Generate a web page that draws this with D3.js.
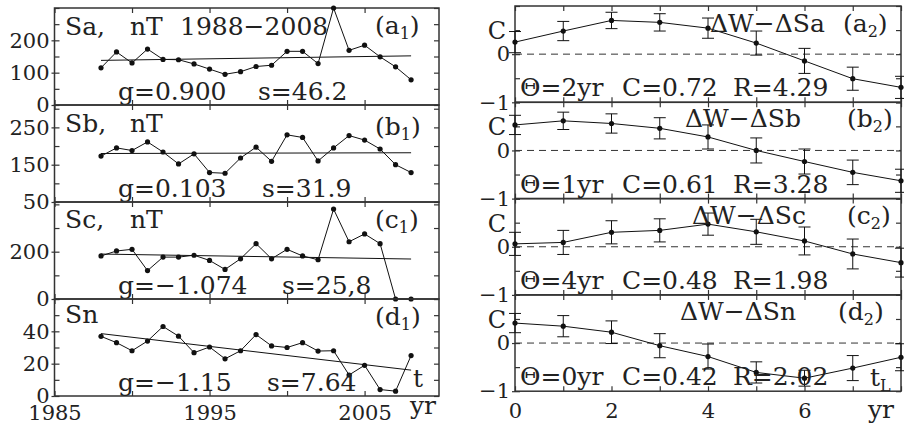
<!DOCTYPE html>
<html>
<head>
<meta charset="utf-8">
<script src="https://cdn.jsdelivr.net/npm/d3@7"></script>
<style>
  body { margin: 0; background: #fff; }
  svg text { font-family: "DejaVu Serif", serif; fill: #222; }
</style>
</head>
<body>
<svg id="chart" width="904" height="424"></svg>
<script>
// ---- left column: yearly series 1988-2008
var years = [1988, 1989, 1990, 1991, 1992, 1993, 1994, 1995, 1996, 1997, 1998,
             1999, 2000, 2001, 2002, 2003, 2004, 2005, 2006, 2007, 2008];
var saValues = [115, 164, 130, 173, 141, 140, 127, 111, 95, 103, 119, 123, 166, 166, 128, 300, 169, 185, 149, 118, 78];
var sbValues = [173, 195, 188, 211, 184, 152, 179, 129, 127, 168, 197, 159, 230, 223, 160, 195, 228, 216, 192, 150, 129];
var scValues = [182, 203, 210, 120, 177, 177, 185, 163, 125, 170, 234, 170, 210, 182, 166, 380, 242, 275, 234, 0, 0];
var snValues = [36.9, 33, 28, 34, 43, 37, 26.8, 30.3, 23, 28, 38, 31, 30, 33, 27.8, 28, 13, 19, 4, 3, 25];
// trend line values at 1988 and 2008
var trendA = [138, 152];
var trendB = [180, 182];
var trendC = [190, 169];
var trendN = [38.6, 16];
var saTicks = [0, 100, 200];
var sbTicks = [50, 150, 250];
var scTicks = [0, 200];
var snTicks = [0, 20, 40];
var yearTicks = [1985, 1990, 1995, 2000, 2005];
var yearLabels = [1985, 1995, 2005];
var leftTitles = [["Sa,", "nT", "1988\u22122008"], ["Sb,", "nT"], ["Sc,", "nT"], ["Sn"]];
var leftTags = ["a", "b", "c", "d"];
var gTexts = ["g=0.900", "g=0.103", "g=\u22121.074", "g=\u22121.15"];
var sTexts = ["s=46.2", "s=31.9", "s=25,8", "s=7.64"];

// ---- right column: correlation vs lag
var lags = [0, 1, 2, 3, 4, 5, 6, 7, 8];
var corrA = [0.25, 0.48, 0.70, 0.66, 0.54, 0.23, -0.14, -0.51, -0.69];
var errA  = [0.22, 0.20, 0.17, 0.18, 0.21, 0.25, 0.26, 0.24, 0.23];
var corrB = [0.53, 0.615, 0.56, 0.46, 0.28, 0.0, -0.23, -0.455, -0.63];
var errB  = [0.20, 0.18, 0.20, 0.22, 0.25, 0.26, 0.26, 0.255, 0.24];
var corrC = [0.06, 0.09, 0.30, 0.34, 0.47, 0.31, 0.12, -0.15, -0.33];
var errC  = [0.24, 0.25, 0.24, 0.24, 0.23, 0.26, 0.29, 0.31, 0.30];
var corrN = [0.415, 0.35, 0.225, -0.055, -0.28, -0.61, -0.73, -0.52, -0.295];
var errN  = [0.20, 0.22, 0.235, 0.25, 0.26, 0.22, 0.165, 0.26, 0.28];
var lagLabels = [0, 2, 4, 6];
var corrLabels = [0, -1];
var rightTitles = ["\u0394W\u2212\u0394Sa", "\u0394W\u2212\u0394Sb", "\u0394W\u2212\u0394Sc", "\u0394W\u2212\u0394Sn"];
var thetaTexts = ["\u0398=2yr", "\u0398=1yr", "\u0398=4yr", "\u0398=0yr"];
var cTexts = ["C=0.72", "C=0.61", "C=0.48", "C=0.42"];
var rTexts = ["R=4.29", "R=3.28", "R=1.98", "R=2.02"];

var svg = d3.select("#chart");
var ink = "#222";
var frame = "#333";

function styleAxis(g, size) {
    g.attr("font-family", null).attr("font-size", null);
    g.select(".domain").remove();
    g.selectAll("line").attr("stroke", frame).attr("stroke-width", 1.2);
    g.selectAll("text")
        .style("font-family", "DejaVu Serif, serif")
        .style("font-size", size + "px")
        .attr("fill", ink);
}

function tagText(sel, x, y, letter, sub) {
    var t = sel.append("text").attr("x", x).attr("y", y).style("font-size", "25px");
    t.append("tspan").text("(" + letter);
    t.append("tspan").attr("dy", 5).style("font-size", "16px").text(sub);
    t.append("tspan").attr("dy", -5).text(")");
}

// ================= left column
var leftX = d3.scaleLinear().domain([1985, 2009.8]).range([54.5, 439]);
var leftTops = [8, 105, 202, 299];
var leftH = 97;
var leftSeries = [saValues, sbValues, scValues, snValues];
var leftTrends = [trendA, trendB, trendC, trendN];
var leftDomains = [[0, 300], [50, 310], [0, 410], [0, 60]];
var leftSteps = [50, 50, 100, 10];
var leftLabelTicks = [saTicks, sbTicks, scTicks, snTicks];
var leftTitleY = [35, 131.5, 227.5, 323];
var leftTagY = [34, 135, 228, 325];
var sX = [258, 262, 282, 267];

leftSeries.forEach(function (vals, i) {
    var top = leftTops[i], bot = top + leftH;
    var x0 = leftX.range()[0], x1 = leftX.range()[1];
    var y = d3.scaleLinear().domain(leftDomains[i]).range([bot, top]);
    var minor = d3.range(leftDomains[i][0], leftDomains[i][1] + 0.01, leftSteps[i]);
    var g = svg.append("g");

    g.append("g").attr("transform", "translate(" + x0 + ",0)")
        .call(d3.axisLeft(y).tickValues(minor).tickSize(-5).tickFormat(""))
        .call(styleAxis, 21);
    g.append("g").attr("transform", "translate(" + x0 + ",0)")
        .call(d3.axisLeft(y).tickValues(leftLabelTicks[i]).tickSize(3).tickPadding(2))
        .call(styleAxis, 21);
    g.append("g").attr("transform", "translate(" + x1 + ",0)")
        .call(d3.axisRight(y).tickValues(minor).tickSize(-5).tickFormat(""))
        .call(styleAxis, 21);
    g.append("g").attr("transform", "translate(0," + bot + ")")
        .call(d3.axisBottom(leftX).tickValues(yearTicks).tickSize(-5).tickFormat(""))
        .call(styleAxis, 21);
    g.append("g").attr("transform", "translate(0," + top + ")")
        .call(d3.axisTop(leftX).tickValues(yearTicks).tickSize(-5).tickFormat(""))
        .call(styleAxis, 21);

    g.append("rect")
        .attr("x", x0).attr("y", top)
        .attr("width", x1 - x0).attr("height", leftH)
        .attr("fill", "none").attr("stroke", frame).attr("stroke-width", 1.5);

    // trend
    g.append("line")
        .attr("x1", leftX(years[0])).attr("y1", y(leftTrends[i][0]))
        .attr("x2", leftX(years[years.length - 1])).attr("y2", y(leftTrends[i][1]))
        .attr("stroke", "#111").attr("stroke-width", 1);

    var pts = d3.zip(years, vals);
    g.append("path")
        .datum(pts)
        .attr("fill", "none").attr("stroke", "#111").attr("stroke-width", 1)
        .attr("d", d3.line().x(function (d) { return leftX(d[0]); }).y(function (d) { return y(d[1]); }));
    g.selectAll(".dot").data(pts).enter().append("circle")
        .attr("cx", function (d) { return leftX(d[0]); })
        .attr("cy", function (d) { return y(d[1]); })
        .attr("r", 2.6).attr("fill", "#111");

    // texts
    var tx = [65, 130, 180];
    leftTitles[i].forEach(function (s, k) {
        g.append("text").attr("x", tx[k]).attr("y", leftTitleY[i]).style("font-size", "25px").text(s);
    });
    tagText(g, 375, leftTagY[i], leftTags[i], "1");
    g.append("text").attr("x", 118).attr("y", bot - 5).style("font-size", "25px").text(gTexts[i]);
    g.append("text").attr("x", sX[i]).attr("y", bot - 5).style("font-size", "25px").text(sTexts[i]);
});

svg.append("g").attr("transform", "translate(0,402)")
    .call(d3.axisBottom(leftX).tickValues(yearLabels).tickSize(0).tickPadding(3).tickFormat(d3.format("d")))
    .call(styleAxis, 21);
svg.append("text").attr("x", 413).attr("y", 387).style("font-size", "25px").text("t");
svg.append("text").attr("x", 410).attr("y", 414).style("font-size", "25px").text("yr");

// ================= right column
var rightX = d3.scaleLinear().domain([0, 8]).range([515, 901]);
var rightTops = [6, 102.3, 198.6, 294.9];
var rightH = 96.3;
var corrSeries = [corrA, corrB, corrC, corrN];
var errSeries = [errA, errB, errC, errN];
var rightTitleX = [710, 685, 692, 680];
var rightTitleY = [31.5, 126.5, 223.5, 320];
var rightTagX = [843, 847, 847, 838];

corrSeries.forEach(function (vals, i) {
    var top = rightTops[i], bot = top + rightH;
    var x0 = rightX.range()[0], x1 = rightX.range()[1];
    var y = d3.scaleLinear().domain([-1, 1]).range([bot, top]);
    var g = svg.append("g");
    var yMinor = [-1, -0.5, 0, 0.5, 1];

    g.append("g").attr("transform", "translate(" + x0 + ",0)")
        .call(d3.axisLeft(y).tickValues(yMinor).tickSize(-5).tickFormat(""))
        .call(styleAxis, 21);
    g.append("g").attr("transform", "translate(" + x0 + ",0)")
        .call(d3.axisLeft(y).tickValues(corrLabels).tickSize(3).tickPadding(2)
            .tickFormat(function (d) { return d < 0 ? "\u2212" + Math.abs(d) : d; }))
        .call(styleAxis, 21);
    g.append("g").attr("transform", "translate(" + x1 + ",0)")
        .call(d3.axisRight(y).tickValues(yMinor).tickSize(-5).tickFormat(""))
        .call(styleAxis, 21);
    g.append("g").attr("transform", "translate(0," + bot + ")")
        .call(d3.axisBottom(rightX).tickValues(lags).tickSize(-5).tickFormat(""))
        .call(styleAxis, 21);
    g.append("g").attr("transform", "translate(0," + top + ")")
        .call(d3.axisTop(rightX).tickValues(lags).tickSize(-5).tickFormat(""))
        .call(styleAxis, 21);

    g.append("rect")
        .attr("x", x0).attr("y", top)
        .attr("width", x1 - x0).attr("height", rightH)
        .attr("fill", "none").attr("stroke", frame).attr("stroke-width", 1.5);

    g.append("line")
        .attr("x1", x0).attr("x2", x1)
        .attr("y1", y(0)).attr("y2", y(0))
        .attr("stroke", frame).attr("stroke-width", 1)
        .attr("stroke-dasharray", "7,5");

    g.append("text").attr("x", 506).attr("y", y(0.5) + 9)
        .attr("text-anchor", "end").style("font-size", "24px").text("C");

    var pts = lags.map(function (l, k) { return {x: l, c: vals[k], e: errSeries[i][k]}; });

    var bars = g.selectAll(".err").data(pts).enter().append("g");
    bars.append("line")
        .attr("x1", function (d) { return rightX(d.x); })
        .attr("x2", function (d) { return rightX(d.x); })
        .attr("y1", function (d) { return y(d.c - d.e); })
        .attr("y2", function (d) { return y(d.c + d.e); })
        .attr("stroke", "#111").attr("stroke-width", 1);
    [-1, 1].forEach(function (sgn) {
        bars.append("line")
            .attr("x1", function (d) { return rightX(d.x) - 6; })
            .attr("x2", function (d) { return rightX(d.x) + 6; })
            .attr("y1", function (d) { return y(d.c + sgn * d.e); })
            .attr("y2", function (d) { return y(d.c + sgn * d.e); })
            .attr("stroke", "#111").attr("stroke-width", 1);
    });

    g.append("path")
        .datum(pts)
        .attr("fill", "none").attr("stroke", "#111").attr("stroke-width", 1)
        .attr("d", d3.line().x(function (d) { return rightX(d.x); }).y(function (d) { return y(d.c); }));
    g.selectAll(".dot").data(pts).enter().append("circle")
        .attr("cx", function (d) { return rightX(d.x); })
        .attr("cy", function (d) { return y(d.c); })
        .attr("r", 2.6).attr("fill", "#111");

    g.append("text").attr("x", rightTitleX[i]).attr("y", rightTitleY[i]).style("font-size", "25px").text(rightTitles[i]);
    tagText(g, rightTagX[i], rightTitleY[i], leftTags[i], "2");
    g.append("text").attr("x", 520).attr("y", bot - 6).style("font-size", "25px").text(thetaTexts[i]);
    g.append("text").attr("x", 622).attr("y", bot - 6).style("font-size", "25px").text(cTexts[i]);
    g.append("text").attr("x", 733).attr("y", bot - 6).style("font-size", "25px").text(rTexts[i]);
});

svg.append("g").attr("transform", "translate(0,400)")
    .call(d3.axisBottom(rightX).tickValues(lagLabels).tickSize(0).tickPadding(3))
    .call(styleAxis, 21);
var tl = svg.append("text").attr("x", 870).attr("y", 386).style("font-size", "25px");
tl.append("tspan").text("t");
tl.append("tspan").attr("dy", 5).style("font-size", "16px").text("L");
svg.append("text").attr("x", 868).attr("y", 418).style("font-size", "25px").text("yr");
</script>
</body>
</html>
